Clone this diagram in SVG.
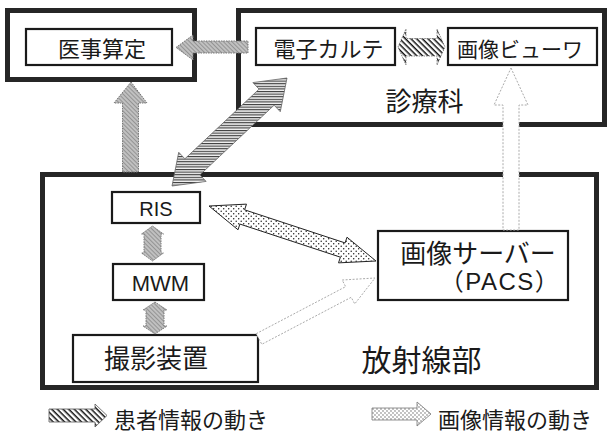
<svg xmlns="http://www.w3.org/2000/svg" width="609" height="434" viewBox="0 0 609 434">
<defs>
<pattern id="hatch" patternUnits="userSpaceOnUse" width="4" height="4" patternTransform="rotate(45)">
<rect width="4" height="4" fill="#fff"/><rect width="4" height="1.5" fill="#111"/>
</pattern>
<pattern id="stripe" patternUnits="userSpaceOnUse" width="4" height="2.6">
<rect width="4" height="2.6" fill="#f2f2f2"/><rect width="4" height="1.1" fill="#3a3a3a"/>
</pattern>
<pattern id="gray" patternUnits="userSpaceOnUse" width="3" height="3" patternTransform="rotate(45)">
<rect width="3" height="3" fill="#c0c0c0"/><rect width="3" height="1" fill="#949494"/>
</pattern>
<pattern id="dots" patternUnits="userSpaceOnUse" width="5" height="5">
<rect width="5" height="5" fill="#fff"/><circle cx="1.2" cy="1.2" r="0.75" fill="#222"/><circle cx="3.7" cy="3.7" r="0.75" fill="#222"/>
</pattern>
<pattern id="ldots" patternUnits="userSpaceOnUse" width="4" height="4">
<rect width="4" height="4" fill="#fff"/><circle cx="1" cy="1" r="0.65" fill="#555"/><circle cx="3" cy="3" r="0.65" fill="#555"/>
</pattern>
</defs>
<style>
.frame{fill:none;stroke:#262626;stroke-width:5}
.box{fill:#fff;stroke:#1a1a1a;stroke-width:2.2}
.jp{font-family:"Noto Sans CJK JP","Noto Sans CJK SC",sans-serif;fill:#1a1a1a;text-anchor:middle}
.lat{font-family:"Liberation Sans","Noto Sans CJK JP",sans-serif;fill:#1a1a1a;text-anchor:middle}
.g{fill:url(#gray);stroke:#777;stroke-width:1;stroke-dasharray:1.5 1}
.light{fill:#fff;stroke:#aaa;stroke-width:1;stroke-dasharray:2 1.5}
</style>
<rect width="609" height="434" fill="#fff"/>

<g id="iji">
<rect class="frame" x="7.5" y="10.5" width="187" height="69"/>
<rect class="box" x="26" y="29" width="146" height="36"/>
<text class="jp" x="102" y="56.5" font-size="22">医事算定</text>
</g>

<g id="shinryoka">
<rect class="frame" x="238.5" y="10.5" width="366" height="114"/>
<text class="jp" x="424.5" y="111" font-size="26">診療科</text>
</g>
<g id="karte">
<rect class="box" x="256" y="28" width="139" height="37"/>
<text class="jp" x="328.5" y="56.5" font-size="22">電子カルテ</text>
</g>
<g id="viewer">
<rect class="box" x="448" y="28" width="149" height="37"/>
<text class="jp" x="520" y="56.5" font-size="21">画像ビューワ</text>
</g>

<g id="hoshasen">
<rect class="frame" x="42.5" y="174.5" width="554" height="213"/>
<text class="jp" x="421.5" y="371" font-size="30">放射線部</text>
</g>
<g id="ris">
<rect class="box" x="112" y="192" width="88" height="31"/>
<text class="lat" x="156" y="216" font-size="20">RIS</text>
</g>
<g id="mwm">
<rect class="box" x="113" y="264" width="91" height="36"/>
<text class="lat" x="160.5" y="291" font-size="22">MWM</text>
</g>
<g id="satsuei">
<rect class="box" x="73" y="335" width="185" height="47"/>
<text class="jp" x="156" y="368" font-size="26">撮影装置</text>
</g>
<g id="pacs">
<rect class="box" x="378" y="231" width="190" height="69"/>
<text class="jp" x="478" y="263" font-size="26">画像サーバー</text>
<text class="lat" x="500" y="290" font-size="24" letter-spacing="1.5">（PACS）</text>
</g>

<g id="connectors">
<polygon class="g" points="176,47.5 193,35 193,41 248,41 248,53 193,53 193,60"/>
<polygon class="g" points="131,82 147,103 138.5,103 138.5,172 122.5,172 122.5,103 114,103"/>
<polygon fill="url(#stripe)" stroke="#666" stroke-width="0.8" points="172,186 178.72,152.26 184.88,158.82 259.06,89.14 252.9,82.58 287,78 280.28,111.74 274.12,105.18 199.94,174.86 206.1,181.42"/>
<polygon fill="url(#hatch)" stroke="#666" stroke-width="0.8" stroke-dasharray="1.5 1" points="398,47 406,29 406,38.5 437,38.5 437,29 445,47 437,65 437,56 406,56 406,65"/>
<polygon class="light" points="511,68 528,105 519,105 519,230 503,230 503,105 494,105"/>
<polygon fill="url(#dots)" stroke="#222" stroke-width="1" points="209,206 246.47,204.13 244.6,209.83 345.1,242.93 346.97,237.23 376,261 338.53,262.87 340.4,257.17 239.9,224.07 238.03,229.77"/>
<polygon class="light" points="256.21,333.69 345.65,286.66 342.16,280.02 375,278 354.72,303.92 351.23,297.28 261.79,344.31"/>
<polygon class="g" points="152.5,226 163.5,234 161,234 161,253 163.5,253 152.5,261 141.5,253 144,253 144,234 141.5,234"/>
<polygon class="g" points="155,302 167,310 164,310 164,326 167,326 155,334 143,326 146,326 146,310 143,310"/>
</g>

<g id="legend">
<polygon fill="url(#hatch)" stroke="#555" stroke-width="0.8" points="49,409 95,409 95,404 107,415.5 95,427 95,422 49,422"/>
<text class="jp" x="114" y="428" font-size="22" style="text-anchor:start">患者情報の動き</text>
<polygon fill="url(#ldots)" stroke="#777" stroke-width="0.8" points="372,408 417,408 417,402 431,414 417,426 417,420 372,420"/>
<text class="jp" x="438" y="428" font-size="22" style="text-anchor:start">画像情報の動き</text>
</g>
</svg>
